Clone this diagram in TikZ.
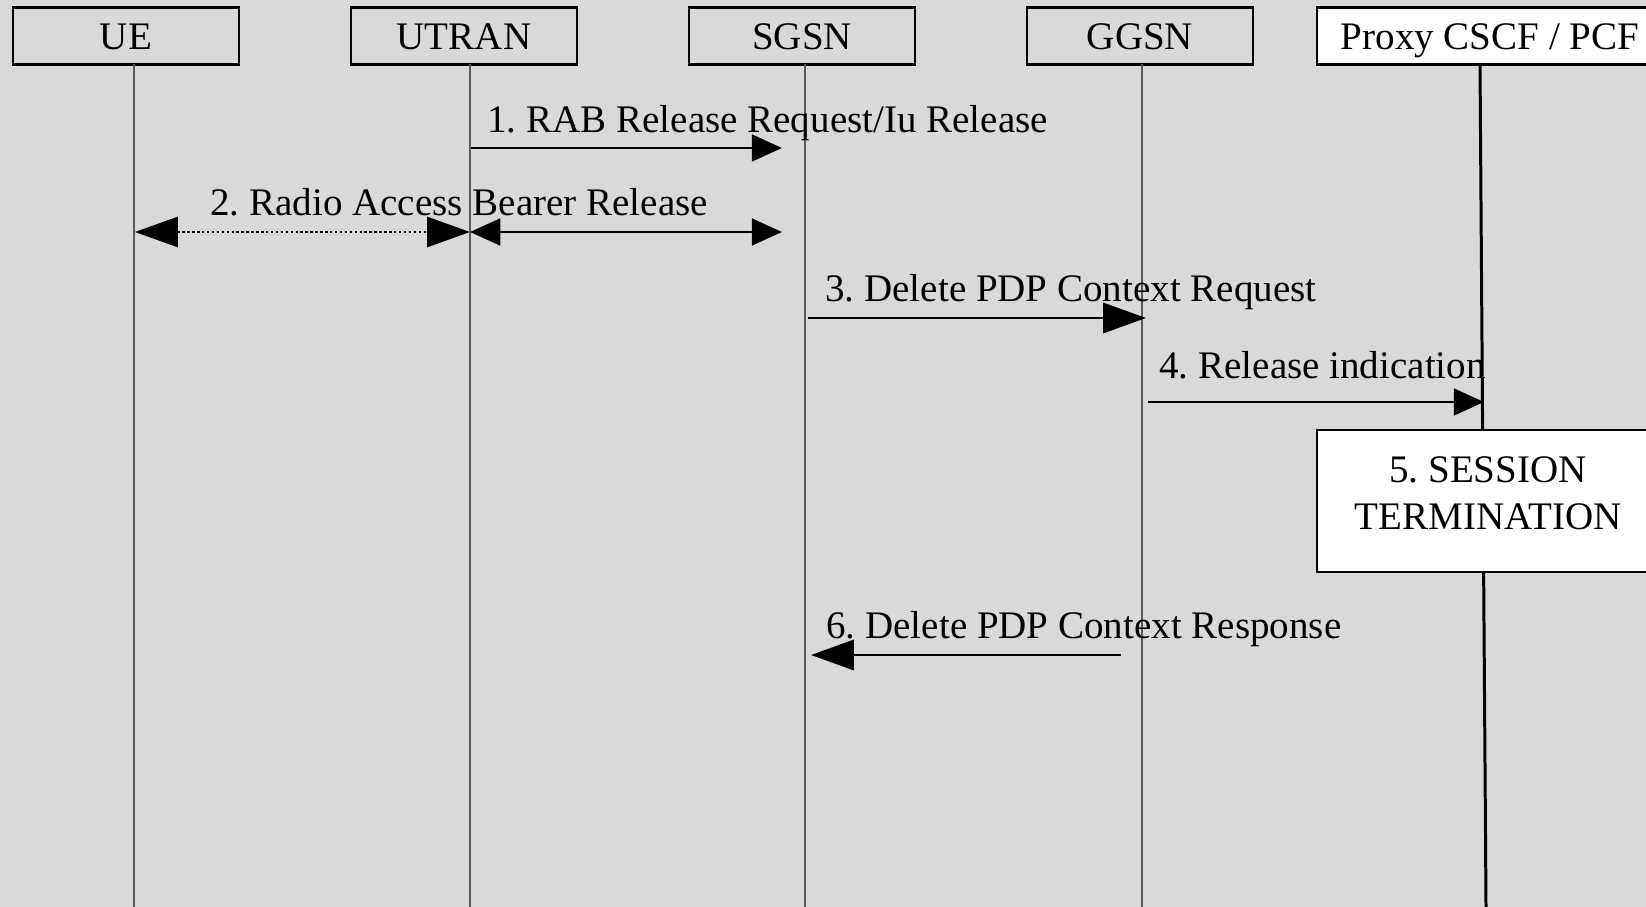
\documentclass[tikz,border=0pt]{standalone}
\usepackage{fontspec}
\setmainfont{Liberation Serif}
\usetikzlibrary{arrows.meta}
\definecolor{bggray}{HTML}{D9D9D9}
\frenchspacing

\begin{document}
\begin{tikzpicture}[x=0.01cm,y=-0.01cm,
	bigtip/.tip={Triangle[length=12.2pt,width=8.6pt]},
	smalltip/.tip={Triangle[length=8.6pt,width=7.6pt]}]
	\fill[bggray] (0,0) rectangle (1646,907);
	\useasboundingbox (0,0) rectangle (1646,907);
	\begin{scope}[every node/.style={font=\fontsize{11.1}{13.3}\selectfont},line width=0.8pt]
		\tikzstyle{entity}=[draw,line width=0.7pt,minimum width=2.26cm,minimum height=0.57cm,inner sep=0pt,text height=7.5pt,text depth=0pt]
		\tikzstyle{proc}=[draw,fill=white,line width=0.8pt,minimum width=3.42cm,minimum height=1.42cm,inner sep=0pt,align=center,text depth=4.5pt]
		\tikzstyle{life}=[line width=0.4pt,black!65]
		\tikzstyle{msg}=[anchor=base west,inner sep=0pt]
		% heads
		\path (126,36)  node [entity] (ue)    {UE};
		\path (464,36)  node [entity] (utran) {UTRAN};
		\path (802,36)  node [entity] (sgsn)  {SGSN};
		\path (1140,36) node [entity] (ggsn)  {GGSN};
		\path (1490,36) node [entity,fill=white,minimum width=3.46cm] (pcscf) {Proxy CSCF / PCF};
		% lifelines
		\path (134,64)  coordinate (ueT)    (134,907)  coordinate (ueB);
		\path (470,64)  coordinate (utranT) (470,907)  coordinate (utranB);
		\path (805,64)  coordinate (sgsnT)  (805,907)  coordinate (sgsnB);
		\path (1142,64) coordinate (ggsnT)  (1142,907) coordinate (ggsnB);
		\path (1480,64) coordinate (pcscfT) (1486,907) coordinate (pcscfB);
		\draw[life] (ueT)    -- (ueB);
		\draw[life] (utranT) -- (utranB);
		\draw[life] (sgsnT)  -- (sgsnB);
		\draw[life] (ggsnT)  -- (ggsnB);
		\draw[line width=0.85pt] (pcscfT) -- (pcscfB);
		\path (1488,501) node [proc] (term) {5. SESSION\\TERMINATION};
		% messages
		\path (471,148)  coordinate (m1a) (782,148)  coordinate (m1b) (486,133)  node [msg] (l1) {1. RAB Release Request/Iu Release};
		\path (135,232)  coordinate (m2a) (470,232)  coordinate (m2b) (782,232)  coordinate (m2c) (209,216) node [msg] (l2) {2. Radio Access Bearer Release};
		\path (808,318)  coordinate (m3a) (1146,318) coordinate (m3b) (824,302)  node [msg] (l3) {3. Delete PDP Context Request};
		\path (1148,402) coordinate (m4a) (1484,402) coordinate (m4b) (1158,379) node [msg] (l4) {4. Release indication};
		\path (1121,655) coordinate (m6a) (811,655)  coordinate (m6b) (825,639)  node [msg] (l6) {6. Delete PDP Context Response};
		\draw[-smalltip] (m1a) -- (m1b);
		\draw[bigtip-bigtip,line width=0.6pt,dash pattern=on 0.7pt off 0.7pt] (m2a) -- (m2b);
		\draw[smalltip-smalltip] (m2b) -- (m2c);
		\draw[-bigtip] (m3a) -- (m3b);
		\draw[-smalltip] (m4a) -- (m4b);
		\draw[-bigtip] (m6a) -- (m6b);
	\end{scope}
\end{tikzpicture}
\end{document}
